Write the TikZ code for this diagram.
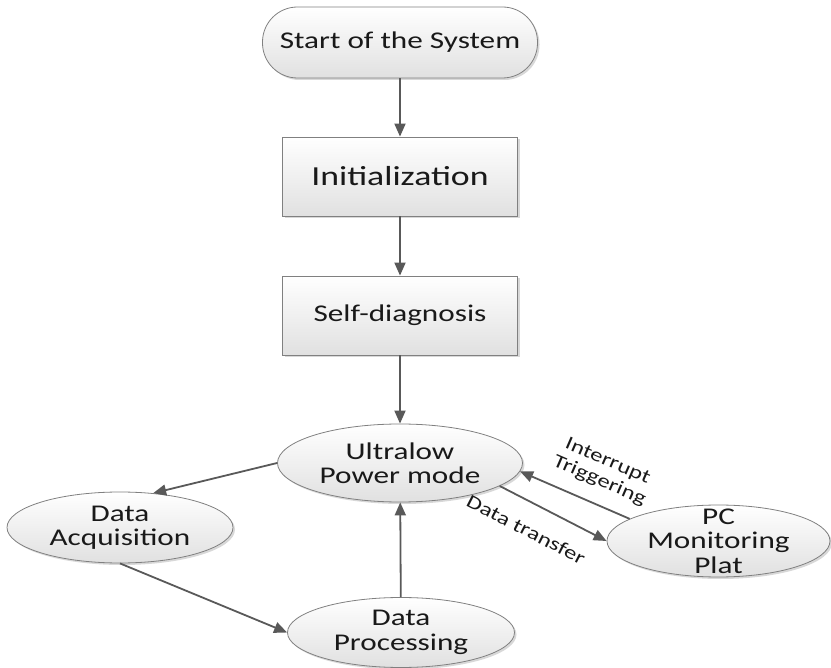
\documentclass[tikz,border=0pt]{standalone}
\usepackage{fontspec}
\setmainfont{Carlito}[FakeStretch=1.3]
\usetikzlibrary{positioning, shapes, arrows.meta, shadows}

\begin{document}
\begin{tikzpicture}[
    x=1pt, y=-1pt,
    every node/.style={text=black!90, font=\fontsize{24}{24.5}\selectfont, align=center},
    shade/.style={draw=black!50, line width=0.8pt, top color=white, bottom color=black!12,
        drop shadow={shadow xshift=2pt, shadow yshift=-2pt, fill=black!30, opacity=0.5}},
    startstop/.style={shade, rectangle, rounded corners=35pt, minimum width=275pt, minimum height=71pt},
    block/.style={shade, rectangle, minimum width=235pt, minimum height=79pt},
    state/.style={shade, ellipse, inner sep=-14pt},
    arrow/.style={-{Triangle[length=13pt, width=11pt]}, line width=1.8pt, draw=black!65},
    note/.style={font=\fontsize{19}{21}\selectfont, inner sep=0pt}
]
\useasboundingbox (0,0) rectangle (831,668);

\node[startstop] (start) at (400,42.5) {Start of the System};
\node[block, font=\fontsize{27.5}{30}\selectfont] (init) at (400,176.5) {Initialization};
\node[block] (diag) at (400,315.5) {Self-diagnosis};
\node[state, minimum width=245pt, minimum height=78pt] (ultra) at (400,463) {Ultralow\\Power mode};
\node[state, minimum width=226pt, minimum height=71pt] (acq) at (120,527.5) {Data\\Acquisition};
\node[state, minimum width=227pt, minimum height=70pt] (proc) at (401,632.5) {Data\\Processing};
\node[state, minimum width=223pt, minimum height=72pt] (pc) at (718.5,541) {PC\\Monitoring\\Plat};

\draw[arrow] (start) -- (init);
\draw[arrow] (init) -- (diag);
\draw[arrow] (diag) -- (ultra);
\draw[arrow] (ultra.west) -- (acq.46);
\draw[arrow] (acq.south) -- (proc.west);
\draw[arrow] (proc) -- (ultra);
\draw[arrow] (ultra.-13) -- node[note, sloped, below=19pt, pos=.36] (xfer) {Data transfer} (pc.west);
\draw[arrow] (pc.166) -- node[note, sloped, above=14pt, pos=.36] (irq) {Interrupt\\Triggering} (ultra.-4);

\end{tikzpicture}
\end{document}
